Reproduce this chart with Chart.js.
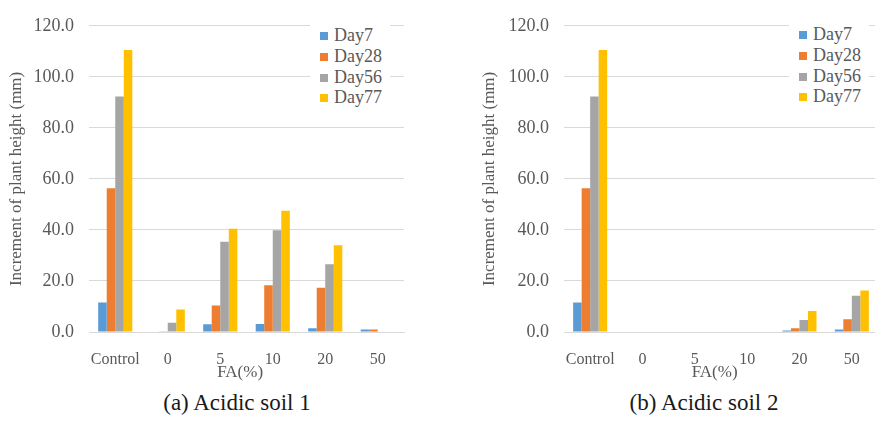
<!DOCTYPE html>
<html>
<head>
<meta charset="utf-8">
<script src="https://cdn.jsdelivr.net/npm/chart.js@4.4.0/dist/chart.umd.min.js"></script>
<style>
    body { margin: 0; width: 875px; height: 422px; overflow: hidden; background: #fff; position: relative; font-family: "Liberation Serif", "DejaVu Serif", "Times New Roman", serif; }
    canvas { position: absolute; top: 0; }
    .legend { position: absolute; background: #fff; padding: 4px 8px 4px 10px; }
    .legend div { height: 20.8px; line-height: 20.8px; font-size: 18px; color: #595959; white-space: nowrap; }
    .legend span { display: inline-block; width: 8px; height: 8px; margin-right: 6px; vertical-align: 1px; }
    .caption { position: absolute; width: 240px; text-align: center; font-size: 23px; line-height: 26px; color: #1a1a1a; }
</style>
</head>
<body>
<canvas id="soil1" width="420" height="383" style="left:0px"></canvas>
<canvas id="soil2" width="440" height="383" style="left:440px"></canvas>
<div class="legend" id="legend1" style="left:310px; top:21px"></div>
<div class="legend" id="legend2" style="left:789px; top:20px"></div>
<div class="caption" style="left:117px; top:390px">(a) Acidic soil 1</div>
<div class="caption" style="left:584px; top:390px">(b) Acidic soil 2</div>
<script>
const categories = ["Control", "0", "5", "10", "20", "50"];
const seriesNames = ["Day7", "Day28", "Day56", "Day77"];
const seriesColors = ["#5B9BD5", "#ED7D31", "#A5A5A5", "#FFC000"];
const yMax = 120;
const yStep = 20;

// Acidic soil 1
const soil1Day7 = [11.6, 0, 3.0, 3.1, 1.5, 1.0];
const soil1Day28 = [56.3, 0.3, 10.4, 18.3, 17.3, 1.0];
const soil1Day56 = [92.3, 3.6, 35.4, 39.9, 26.6, 0];
const soil1Day77 = [110.5, 8.8, 40.5, 47.5, 34.0, 0];

// Acidic soil 2
const soil2Day7 = [11.6, 0, 0, 0, 0.6, 1.0];
const soil2Day28 = [56.3, 0, 0, 0, 1.5, 5.0];
const soil2Day56 = [92.3, 0, 0, 0, 4.7, 14.2];
const soil2Day77 = [110.5, 0, 0, 0, 8.2, 16.3];

const serif = "'Liberation Serif', 'DejaVu Serif', 'Times New Roman', serif";
const gray = "#595959";
const gridGray = "#d9d9d9";

function makeChart(id, series, padLeft, padRight, yWidth) {
    let ctx = document.getElementById(id).getContext('2d');
    return new Chart(ctx, {
        type: 'bar',
        data: {
            labels: categories,
            datasets: series.map((values, i) => ({
                label: seriesNames[i],
                data: values,
                backgroundColor: seriesColors[i],
                borderWidth: 0,
                categoryPercentage: 0.65,
                barPercentage: 1.0
            }))
        },
        options: {
            responsive: false,
            animation: false,
            layout: { padding: { left: padLeft, right: padRight, top: 16, bottom: 0 } },
            plugins: {
                legend: { display: false },
                tooltip: { enabled: false }
            },
            scales: {
                x: {
                    grid: { display: false },
                    border: { display: true, color: gridGray, width: 1 },
                    ticks: { color: gray, padding: 10, maxRotation: 0, minRotation: 0, autoSkip: false, font: { family: serif, size: 16 } },
                    // trailing spaces nudge the title a little left, like the original
                    title: { display: true, text: "FA(%)   ", color: gray, padding: 0, font: { family: serif, size: 17 } },
                    afterFit: (scale) => { scale.height = 51; }
                },
                y: {
                    min: 0,
                    max: yMax,
                    grid: { color: gridGray, drawTicks: false },
                    border: { display: false },
                    ticks: {
                        stepSize: yStep,
                        color: gray,
                        padding: 15,
                        font: { family: serif, size: 18 },
                        callback: (v) => v.toFixed(1)
                    },
                    title: { display: true, text: "Increment of plant height (mm)", color: gray, padding: 0, font: { family: serif, size: 17 } },
                    afterFit: (scale) => { scale.width = yWidth; }
                }
            }
        }
    });
}

function buildLegend(chart, elId) {
    let el = document.getElementById(elId);
    el.innerHTML = chart.data.datasets.map(ds =>
        `<div><span style="background:${ds.backgroundColor}"></span>${ds.label}</div>`
    ).join("");
}

let chart1 = makeChart("soil1", [soil1Day7, soil1Day28, soil1Day56, soil1Day77], 6, 16, 83);
let chart2 = makeChart("soil2", [soil2Day7, soil2Day28, soil2Day56, soil2Day77], 39, 2, 85);
buildLegend(chart1, "legend1");
buildLegend(chart2, "legend2");
</script>
</body>
</html>
